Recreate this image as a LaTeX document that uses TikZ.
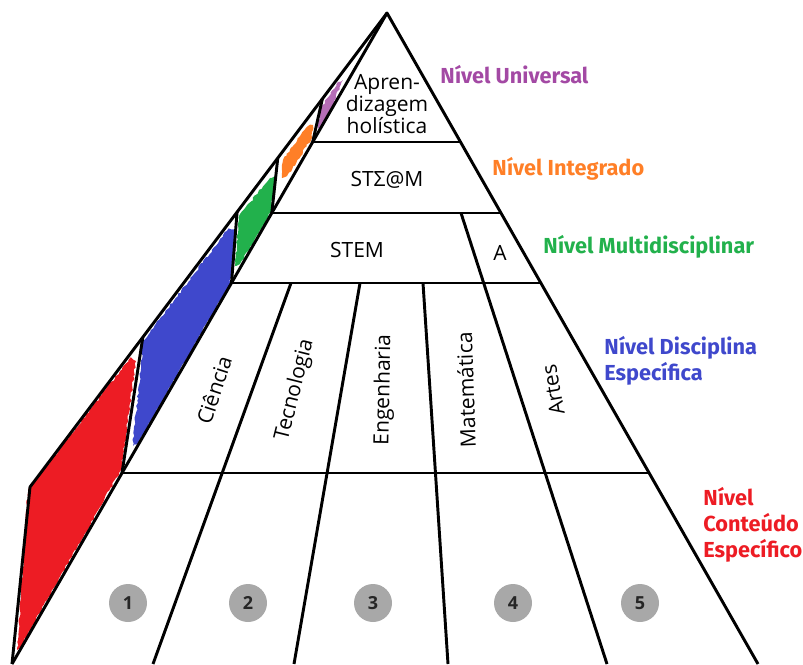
\documentclass[tikz,border=0pt]{standalone}
\usepackage{fontspec}
\setmainfont{Open Sans}
\newfontfamily\lvlfont{Fira Sans}
\usetikzlibrary{calc,decorations.pathmorphing}

\definecolor{univ}{HTML}{A349A4}
\definecolor{integ}{HTML}{FF7F27}
\definecolor{multi}{HTML}{22B14C}
\definecolor{disc}{HTML}{3F48CC}
\definecolor{cont}{HTML}{ED1C24}
\definecolor{badge}{HTML}{A8A8A8}

\tikzset{
  edge/.style={line width=2.2pt, line join=round},
  brush/.style={decorate, decoration={random steps, segment length=2pt, amplitude=0.8pt}},
  face/.style={font=\fontsize{15.75}{16.5}\selectfont, align=center, inner sep=0pt},
  subj/.style={font=\fontsize{15.75}{16}\selectfont, inner sep=0pt},
  num/.style={circle, fill=badge, minimum size=28.5pt, inner sep=0pt,
    font=\bfseries\fontsize{13.5}{14}\selectfont, text=black!85},
  lvl/.style={font=\lvlfont\bfseries\fontsize{16.3}{19.5}\selectfont,
    anchor=west, align=left, inner sep=0pt},
}

\begin{document}
\begin{tikzpicture}[x=0.75pt,y=-0.75pt]
  \useasboundingbox (0,0) rectangle (803,664);

  % corners of the front face and the back edge of the side face
  \coordinate (top) at (387,13);
  \coordinate (bl) at (12,664);
  \coordinate (br) at (758,664);
  \coordinate (back) at (30,487);

  % level lines on the front face
  \coordinate (l1) at (312.7,142); \coordinate (r1) at (460.5,142);
  \coordinate (l2) at (271.8,213); \coordinate (r2) at (501,213);
  \coordinate (l3) at (231.5,283); \coordinate (r3) at (540.9,283);
  \coordinate (l4) at (122,473);   \coordinate (r4) at (649,473);

  % where the side face separators meet the back edge
  \coordinate (b1) at ($(top)!0.181!(back)$);
  \coordinate (b2) at ($(top)!0.306!(back)$);
  \coordinate (b3) at ($(top)!0.42!(back)$);
  \coordinate (b4) at ($(top)!0.684!(back)$);

  % coloured bands on the side face
  \fill[cont, brush] (17,650) -- (28,490) -- (131,357) -- (136,361) -- (121,470) -- (20,648) -- cycle;
  \fill[disc, brush] (133,446) -- (143,341) -- (229,228) -- (236,231) -- (230,283) -- (139,442) -- cycle;
  \fill[multi, brush] (235,266) -- (239,216) -- (270,178) -- (275,176) -- (271,212) -- (240,264) -- cycle;
  \fill[integ, brush] (282,178) -- (283,160) -- (308,126) -- (313,125) -- (311,140) -- (287,176) -- cycle;
  \fill[univ!80, brush] (318,128) -- (321,108) -- (338,82) -- (343,80) -- (327,118) -- (320,130) -- cycle;

  % outline of the pyramid
  \draw[edge] (bl) -- (top) -- (br);
  \draw[edge] (top) -- (back) -- (bl);
  \draw[edge] (l1) -- (b1);
  \draw[edge] (l2) -- (b2);
  \draw[edge] (l3) -- (b3);
  \draw[edge] (l4) -- (b4);
  \draw[edge] (l1) -- (r1);
  \draw[edge] (l2) -- (r2);
  \draw[edge] (l3) -- (r3);
  \draw[edge] (l4) -- (r4);

  % columns of the lower levels
  \draw[edge] (291,283) -- (153,664);
  \draw[edge] (360,283) -- (294,664);
  \draw[edge] (423,283) -- (448,664);
  \draw[edge] (461,213) -- (607,664);

  % texts on the front face
  \node[face] (holist) at (387,104) {Apren-\\dizagem\\holística};
  \node[face] (steam) at (387,180) {STΣ@M};
  \node[face] (stem) at (357,250) {STEM};
  \node[face] (arts) at (500,253) {A};

  \node[subj, rotate=72] (cien) at (214,390) {Ciência};
  \node[subj, rotate=76] (tec) at (295,390) {Tecnologia};
  \node[subj, rotate=89] (eng) at (384,390) {Engenharia};
  \node[subj, rotate=92] (mat) at (466,390) {Matemática};
  \node[subj, rotate=100] (art) at (553,390) {Artes};

  \foreach \i/\x in {1/128,2/248,3/373,4/513,5/640}
    \node[num] (n\i) at (\x,603) {\i};

  % names of the levels
  \node[lvl, text=univ] (lvuni) at (440,75) {Nível Universal};
  \node[lvl, text=integ] (lvint) at (492,169) {Nível Integrado};
  \node[lvl, text=multi] (lvmul) at (543,247) {Nível Multidisciplinar};
  \node[lvl, text=disc] (lvdis) at (604,361) {Nível Disciplina\\Específica};
  \node[lvl, text=cont] (lvcon) at (703,525) {Nível\\Conteúdo\\Específico};
\end{tikzpicture}
\end{document}
